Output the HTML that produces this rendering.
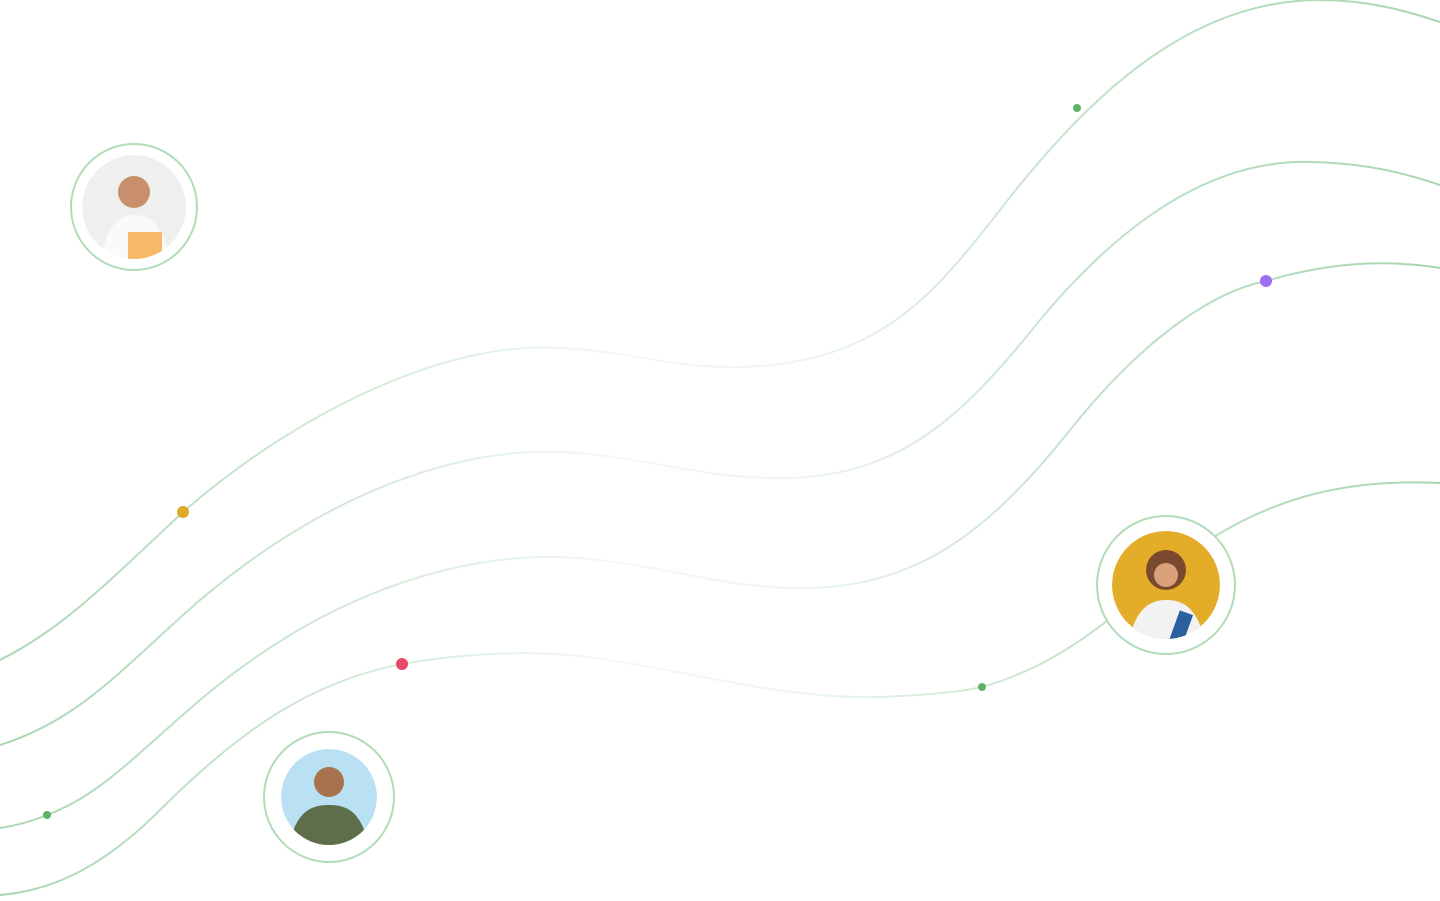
<!DOCTYPE html>
<html>
<head>
<meta charset="utf-8">
<style>
html,body{margin:0;padding:0;background:#fff;width:1440px;height:901px;overflow:hidden;}
svg{display:block;}
</style>
</head>
<body>
<svg width="1440" height="901" viewBox="0 0 1440 901">
  <defs>
    <linearGradient id="fade" gradientUnits="userSpaceOnUse" x1="0" y1="0" x2="1440" y2="0">
      <stop offset="0" stop-color="#a9d6b1" stop-opacity="1"/>
      <stop offset="0.2" stop-color="#a9d6b1" stop-opacity="0.6"/>
      <stop offset="0.42" stop-color="#a9d6b1" stop-opacity="0.15"/>
      <stop offset="0.55" stop-color="#a9d6b1" stop-opacity="0.2"/>
      <stop offset="0.75" stop-color="#a9d6b1" stop-opacity="0.7"/>
      <stop offset="1" stop-color="#a9d6b1" stop-opacity="1"/>
    </linearGradient>
    <clipPath id="c1"><circle cx="134" cy="207" r="52"/></clipPath>
    <clipPath id="c2"><circle cx="329" cy="797" r="48"/></clipPath>
    <clipPath id="c3"><circle cx="1166" cy="585" r="54"/></clipPath>
  </defs>
  <g fill="none" stroke="url(#fade)" stroke-width="2">
    <path d="M0,660 C60,630 100,590 183,512 C300,410 450,340 560,348 C640,352 680,372 760,366 C880,356 930,300 1000,210 C1100,80 1200,0 1320,0 C1370,0 1410,12 1440,22"/>
    <path d="M0,745 C80,720 120,670 200,600 C330,490 460,448 560,452 C650,456 700,480 790,478 C900,474 960,420 1040,320 C1140,200 1230,160 1310,162 C1370,163 1410,175 1440,185"/>
    <path d="M0,828 C20,825 35,820 47,815 C100,795 130,760 200,700 C330,590 460,555 560,557 C650,560 720,590 810,588 C920,585 990,530 1070,430 C1150,330 1220,290 1266,281 C1320,265 1380,258 1440,268"/>
    <path d="M0,895 C60,890 110,860 160,810 C250,720 320,680 402,664 C460,654 520,650 580,656 C680,668 780,700 880,697 C930,695 960,692 982,687 C1060,665 1110,620 1180,560 C1260,500 1340,478 1440,483"/>
  </g>
  <circle cx="1077" cy="108" r="4" fill="#5cb266"/>
  <circle cx="1266" cy="281" r="6" fill="#9d6df3"/>
  <circle cx="183" cy="512" r="6" fill="#e1a928"/>
  <circle cx="402" cy="664" r="6" fill="#ea4868"/>
  <circle cx="47" cy="815" r="4" fill="#5cb266"/>
  <circle cx="982" cy="687" r="4" fill="#5cb266"/>

  <g>
    <circle cx="134" cy="207" r="63" fill="#fff" stroke="#b2dbb8" stroke-width="2"/>
    <g clip-path="url(#c1)">
      <circle cx="134" cy="207" r="52" fill="#efefef"/>
      <circle cx="134" cy="192" r="16" fill="#c98f6c"/>
      <path d="M100,265 C105,225 120,215 134,215 C150,215 165,225 170,265 Z" fill="#fafafa"/>
      <rect x="128" y="232" width="34" height="30" fill="#f7b868"/>
    </g>
  </g>
  <g>
    <circle cx="329" cy="797" r="65" fill="#fff" stroke="#b2dbb8" stroke-width="2"/>
    <g clip-path="url(#c2)">
      <circle cx="329" cy="797" r="48" fill="#b9e1f3"/>
      <circle cx="329" cy="782" r="15" fill="#a8724f"/>
      <path d="M288,850 C295,812 310,805 329,805 C348,805 362,812 370,850 Z" fill="#5f6e4a"/>
    </g>
  </g>
  <g>
    <circle cx="1166" cy="585" r="69" fill="#fff" stroke="#b2dbb8" stroke-width="2"/>
    <g clip-path="url(#c3)">
      <circle cx="1166" cy="585" r="54" fill="#e3ad2a"/>
      <circle cx="1166" cy="570" r="20" fill="#7a4a2e"/>
      <circle cx="1166" cy="575" r="12" fill="#d9a07a"/>
      <path d="M1128,645 C1135,608 1150,600 1166,600 C1184,600 1198,608 1206,645 Z" fill="#f2f2f2"/>
      <rect x="1175" y="612" width="14" height="30" fill="#2a5fa0" transform="rotate(20 1182 625)"/>
    </g>
  </g>
</svg>
</body>
</html>
